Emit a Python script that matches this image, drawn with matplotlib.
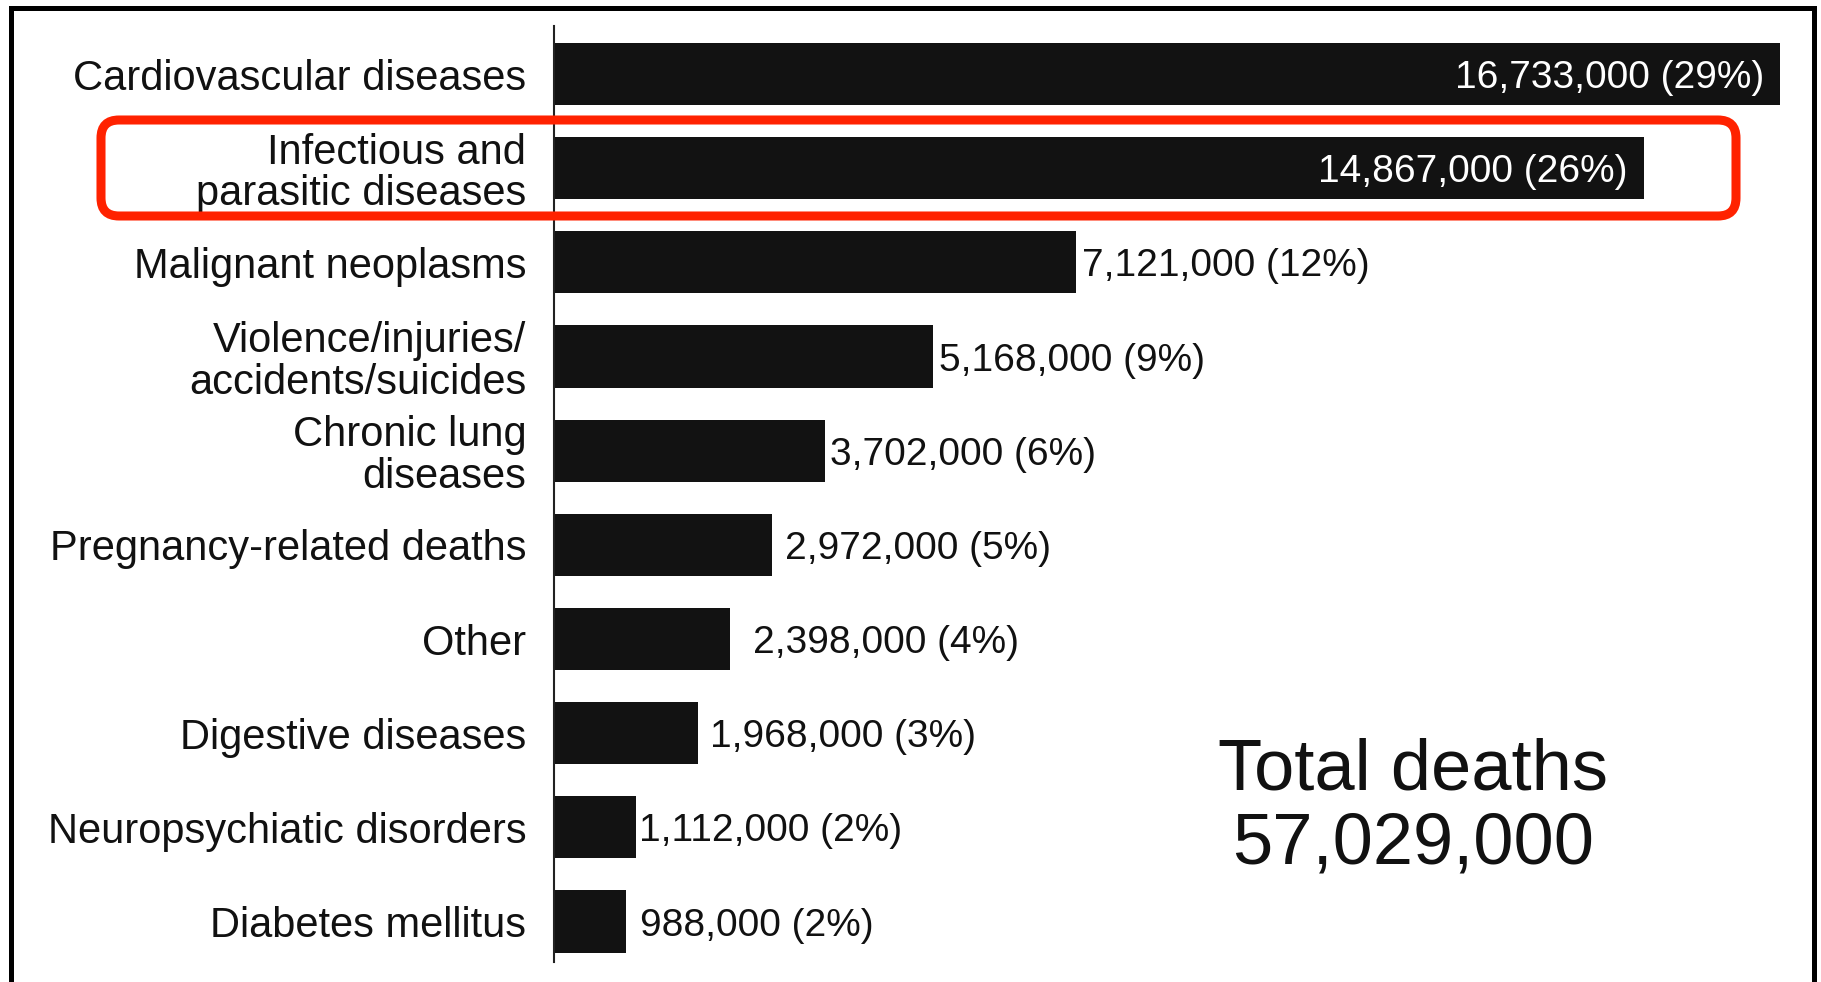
import matplotlib
matplotlib.use("Agg")
import matplotlib.pyplot as plt
from matplotlib.patches import Rectangle, FancyBboxPatch
from matplotlib.transforms import IdentityTransform

# Leading causes of death (thousands)
causes = [
    "Cardiovascular diseases",
    "Infectious and\nparasitic diseases",
    "Malignant neoplasms",
    "Violence/injuries/\naccidents/suicides",
    "Chronic lung\ndiseases",
    "Pregnancy-related deaths",
    "Other",
    "Digestive diseases",
    "Neuropsychiatic disorders",
    "Diabetes mellitus",
]
deaths = [16733, 14867, 7121, 5168, 3702, 2972, 2398, 1968, 1112, 988]
shares = [29, 26, 12, 9, 6, 5, 4, 3, 2, 2]
total_deaths = "57,029,000"

plt.rcParams['font.family'] = ['Liberation Sans', 'DejaVu Sans']

W, H = 1821, 982
fig = plt.figure(figsize=(W / 100, H / 100), dpi=100)
fig.patch.set_facecolor("white")

# axes placed in pixel terms
left, top, right, bottom = 554, 26, 1800, 962
ax = fig.add_axes([left / W, (H - bottom) / H, (right - left) / W, (bottom - top) / H])

ypos = list(range(len(causes)))
ax.barh(ypos, deaths, height=0.66, color="#121212", edgecolor="none")
ax.set_xlim(0, 17000)
ax.set_ylim(9.43, -0.51)

ax.set_yticks(ypos)
ax.set_yticklabels(causes, fontsize=30, color="#111111", linespacing=1.05)
ax.tick_params(axis="y", length=0, pad=20)
ax.set_xticks([])
for s in ["top", "right", "bottom"]:
    ax.spines[s].set_visible(False)
ax.spines["left"].set_linewidth(1.5)
ax.spines["left"].set_color("#222222")

# value labels: white inside the two long bars, black outside the others
pads = [6, 6, 5, 13, 23, 12, 3, 14]
for i, (v, p) in enumerate(zip(deaths, shares)):
    txt = f"{v:,},000 ({p}%)"
    if i < 2:
        ax.annotate(txt, (v, i), xytext=(-16, -4), textcoords="offset pixels",
                    ha="right", va="center", fontsize=28, color="white")
    else:
        ax.annotate(txt, (v, i), xytext=(pads[i - 2], -4), textcoords="offset pixels",
                    ha="left", va="center", fontsize=28, color="#111111")

fig.text(1413 / W, 1 - 808 / H, "Total deaths\n" + total_deaths, ha="center", va="center",
         fontsize=52, color="#111111", linespacing=1.12)

# outer black frame (bottom edge falls outside the image)
fig.patches.append(Rectangle((11, -20), 1803, H - 8 + 20, transform=IdentityTransform(),
                             fill=False, edgecolor="black", linewidth=3.6))

# red highlight around the second row
fig.patches.append(FancyBboxPatch((101, H - 216), 1635, 96,
                                  boxstyle="round,pad=0,rounding_size=18",
                                  transform=IdentityTransform(), fill=False,
                                  edgecolor="#ff2200", linewidth=6.5))

fig.savefig("out.png", dpi=100)
